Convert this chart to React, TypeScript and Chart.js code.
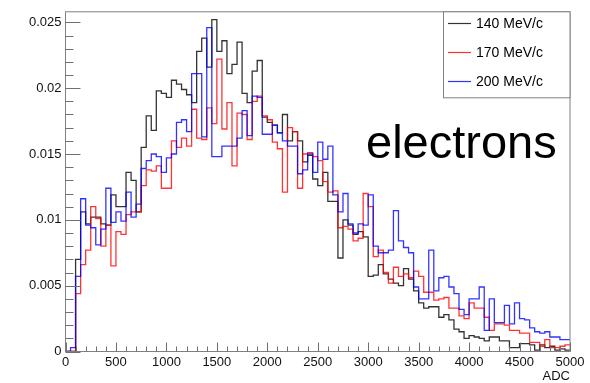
import { useEffect, useRef } from 'react';
import { Chart, registerables } from 'chart.js';

Chart.register(...registerables);

// Histogram: 100 bins of 50 ADC from 0 to 5000 (low edges)
const binWidth = 50;
const binLowEdges: number[] = Array.from({ length: 100 }, (_, i) => i * binWidth);

const seriesLabels = ['140 MeV/c', '170 MeV/c', '200 MeV/c'];
const seriesColors = ['rgba(0,0,0,0.8)', 'rgba(255,0,0,0.8)', 'rgba(0,0,255,0.8)'];

const black140 = [
  0, 0, 0.0070, 0.0106, 0.0097, 0.0102, 0.0102, 0.0097, 0.0096, 0.0119,
  0.0110, 0.0110, 0.0136, 0.0130, 0.0106, 0.0155, 0.0179, 0.0168, 0.0198, 0.0196,
  0.0193, 0.0206, 0.0203, 0.0199, 0.0195, 0.0189, 0.0228, 0.0238, 0.0216, 0.0252,
  0.0228, 0.0236, 0.0211, 0.0218, 0.0235, 0.0196, 0.0189, 0.0213, 0.0221, 0.0178,
  0.0174, 0.0172, 0.0166, 0.0180, 0.0160, 0.0167, 0.0160, 0.0144, 0.0149, 0.0131,
  0.0126, 0.0136, 0.0114, 0.0114, 0.0071, 0.0100, 0.0096, 0.0089, 0.0091, 0.0087,
  0.0057, 0.0058, 0.0066, 0.0059, 0.0055, 0.0052, 0.0050, 0.0063, 0.0055, 0.0046,
  0.0037, 0.0033, 0.0034, 0.0034, 0.0026, 0.0028, 0.0024, 0.0017, 0.0015, 0.0010,
  0.0012, 0.0011, 0.0010, 0.0008, 0.0011, 0.0011, 0.0008, 0.0008, 0.0003, 0.0003,
  0.0006, 0.0006, 0.0005, 0.0001, 0.0005, 0.0003, 0.0004, 0.0001, 0.0002, 0.0001,
];

const red170 = [
  0, 0, 0.0044, 0.0066, 0.0077, 0.0110, 0.0101, 0.0080, 0.0096, 0.0065,
  0.0091, 0.0089, 0.0104, 0.0106, 0.0106, 0.0126, 0.0138, 0.0137, 0.0141, 0.0124,
  0.0124, 0.0160, 0.0155, 0.0162, 0.0156, 0.0184, 0.0162, 0.0161, 0.0185, 0.0173,
  0.0222, 0.0169, 0.0189, 0.0141, 0.0181, 0.0180, 0.0161, 0.0190, 0.0194, 0.0179,
  0.0176, 0.0159, 0.0154, 0.0121, 0.0170, 0.0167, 0.0124, 0.0150, 0.0151, 0.0148,
  0.0145, 0.0129, 0.0121, 0.0122, 0.0094, 0.0095, 0.0093, 0.0084, 0.0086, 0.0120,
  0.0110, 0.0072, 0.0077, 0.0060, 0.0052, 0.0064, 0.0057, 0.0059, 0.0056, 0.0061,
  0.0057, 0.0045, 0.0045, 0.0039, 0.0040, 0.0041, 0.0033, 0.0033, 0.0027, 0.0025,
  0.0037, 0.0033, 0.0033, 0.0026, 0.0016, 0.0021, 0.0021, 0.0020, 0.0016, 0.0016,
  0.0014, 0.0014, 0.0007, 0.0007, 0.0004, 0.0009, 0.0003, 0.0003, 0.0004, 0.0005,
];

const blue200 = [
  0, 0.0003, 0.0057, 0.0116, 0.0096, 0.0094, 0.0081, 0.0093, 0.0124, 0.0098,
  0.0106, 0.0099, 0.0121, 0.0102, 0.0112, 0.0139, 0.0145, 0.0150, 0.0148, 0.0136,
  0.0147, 0.0150, 0.0174, 0.0176, 0.0167, 0.0211, 0.0211, 0.0163, 0.0246, 0.0148,
  0.0148, 0.0156, 0.0156, 0.0156, 0.0162, 0.0183, 0.0164, 0.0194, 0.0193, 0.0165,
  0.0165, 0.0172, 0.0166, 0.0160, 0.0156, 0.0156, 0.0135, 0.0138, 0.0150, 0.0136,
  0.0159, 0.0146, 0.0156, 0.0119, 0.0106, 0.0120, 0.0097, 0.0090, 0.0097, 0.0096,
  0.0119, 0.0080, 0.0075, 0.0075, 0.0077, 0.0107, 0.0084, 0.0079, 0.0075, 0.0049,
  0.0040, 0.0040, 0.0077, 0.0046, 0.0056, 0.0057, 0.0049, 0.0044, 0.0032, 0.0028,
  0.0040, 0.0040, 0.0049, 0.0016, 0.0040, 0.0022, 0.0022, 0.0035, 0.0021, 0.0037,
  0.0025, 0.0024, 0.0018, 0.0015, 0.0014, 0.0015, 0.0011, 0.0011, 0.0009, 0.0009,
];

const xMin = 0;
const xMax = 5000;
const yMin = 0;
const yMax = 0.0258;
const xMajorStep = 500;
const xMinorStep = 100;
const yMajorStep = 0.005;
const yMinorStep = 0.001;
const yLastTick = 0.025;
const xAxisTitle = 'ADC';
const annotationText = 'electrons';

const FONT = '"Liberation Sans", Arial, Helvetica, sans-serif';

function toSteps(values: number[]) {
  const pts = values.map((v, i) => ({ x: binLowEdges[i], y: v }));
  pts.push({ x: binLowEdges[values.length - 1] + binWidth, y: values[values.length - 1] });
  return pts;
}

const decorPlugin = {
  id: 'rootDecor',
  afterDatasetsDraw(chart: any) {
    const { ctx, chartArea: a, scales } = chart;
    const x = scales.x;
    const y = scales.y;
    ctx.save();
    // frame
    ctx.strokeStyle = '#808080';
    ctx.lineWidth = 1;
    ctx.strokeRect(a.left, a.top, a.right - a.left, a.bottom - a.top);

    // y ticks (inside)
    ctx.strokeStyle = '#707070';
    ctx.beginPath();
    const nY = Math.round((yLastTick - yMin) / yMinorStep);
    for (let k = 0; k <= nY; k++) {
      const v = yMin + k * yMinorStep;
      const py = Math.round(y.getPixelForValue(v)) + 0.5;
      const len = k % Math.round(yMajorStep / yMinorStep) === 0 ? 15 : 8;
      ctx.moveTo(a.left, py);
      ctx.lineTo(a.left + len, py);
    }
    // x ticks (inside, upward)
    const nX = Math.round((xMax - xMin) / xMinorStep);
    for (let k = 0; k <= nX; k++) {
      const v = xMin + k * xMinorStep;
      const px = Math.round(x.getPixelForValue(v)) + 0.5;
      const len = k % Math.round(xMajorStep / xMinorStep) === 0 ? 9 : 5;
      ctx.moveTo(px, a.bottom);
      ctx.lineTo(px, a.bottom - len);
    }
    ctx.stroke();

    // legend box
    const lx = 443.5, ly = a.top, lw = a.right - 443.5, lh = 86;
    ctx.fillStyle = '#ffffff';
    ctx.fillRect(lx, ly, lw, lh);
    ctx.strokeStyle = '#808080';
    ctx.lineWidth = 1;
    ctx.strokeRect(lx, ly, lw, lh);
    const rowY = [23.5, 52.5, 81.5];
    const legendLineColors = ['#333333', '#ff3030', '#3030ff'];
    ctx.font = `14px ${FONT}`;
    ctx.textBaseline = 'middle';
    ctx.textAlign = 'left';
    for (let i = 0; i < seriesLabels.length; i++) {
      ctx.beginPath();
      ctx.strokeStyle = legendLineColors[i];
      ctx.lineWidth = 1.2;
      ctx.moveTo(448, rowY[i]);
      ctx.lineTo(471, rowY[i]);
      ctx.stroke();
      ctx.fillStyle = '#000';
      ctx.fillText(seriesLabels[i], 476, rowY[i] + 0.5);
    }

    // annotation
    ctx.font = `47px ${FONT}`;
    ctx.fillStyle = '#000';
    ctx.textBaseline = 'alphabetic';
    ctx.fillText(annotationText, 366, 158);
    ctx.restore();
  },
};

export default function App() {
  const ref = useRef<HTMLCanvasElement>(null);
  useEffect(() => {
    if (!ref.current) return;
    const series = [black140, red170, blue200];
    const chart = new Chart(ref.current, {
      type: 'line',
      data: {
        datasets: series.map((vals, i) => ({
          label: seriesLabels[i],
          data: toSteps(vals),
          borderColor: seriesColors[i],
          borderWidth: 1.3,
          pointRadius: 0,
          fill: false,
          stepped: 'before' as const,
          order: 3 - i,
        })),
      },
      options: {
        responsive: false,
        animation: false,
        events: [],
        layout: { padding: { left: 0, top: 8, right: 20, bottom: 0 } },
        plugins: { legend: { display: false }, tooltip: { enabled: false } },
        scales: {
          x: {
            type: 'linear',
            min: xMin,
            max: xMax,
            grid: { display: false, drawTicks: false },
            border: { display: false },
            ticks: {
              stepSize: xMajorStep,
              padding: 3,
              maxRotation: 0,
              autoSkip: false,
              color: '#111',
              font: { size: 13, family: FONT },
              callback: (v: any) => String(v),
            },
            title: {
              display: true,
              text: xAxisTitle,
              align: 'end',
              color: '#111',
              padding: 0,
              font: { size: 13, family: FONT, lineHeight: 1 },
            },
            afterFit: (s: any) => { s.height = 31.5; },
          },
          y: {
            type: 'linear',
            min: yMin,
            max: yMax,
            grid: { display: false, drawTicks: false },
            border: { display: false },
            ticks: {
              stepSize: yMajorStep,
              includeBounds: false,
              padding: 4,
              color: '#111',
              font: { size: 13, family: FONT },
              callback: (v: any) => String(+Number(v).toFixed(3)),
            },
            afterFit: (s: any) => { s.width = 65.5; },
          },
        },
      },
      plugins: [decorPlugin],
    } as any);
    return () => chart.destroy();
  }, []);
  return (
    <div style={{ position: 'fixed', left: 0, top: 0, width: 590, height: 383, background: '#fff' }}>
      <canvas ref={ref} width={590} height={383} style={{ display: 'block', width: 590, height: 383 }} />
    </div>
  );
}
